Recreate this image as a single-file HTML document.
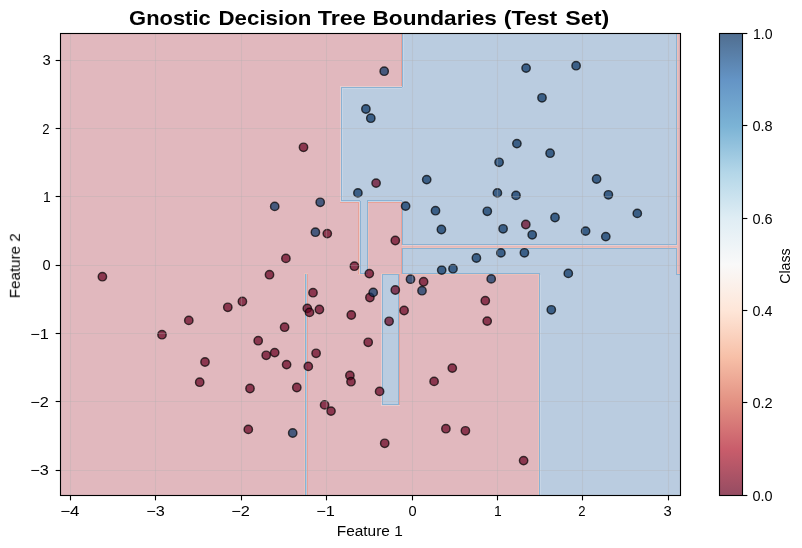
<!DOCTYPE html><html><head><meta charset="utf-8"><style>html,body{margin:0;padding:0;background:#fff;overflow:hidden;}svg{display:block;}text{font-family:"Liberation Sans",sans-serif;}</style></head><body>
<svg width="802" height="548" viewBox="0 0 802 548">
<defs>
<clipPath id="ax"><rect x="60.5" y="33.5" width="620.0" height="462.0"/></clipPath>
<linearGradient id="cb" x1="0" y1="1" x2="0" y2="0">
<stop offset="0.0" stop-color="rgb(149, 76, 98)"/>
<stop offset="0.1" stop-color="rgb(201, 93, 107)"/>
<stop offset="0.2" stop-color="rgb(226, 144, 130)"/>
<stop offset="0.3" stop-color="rgb(247, 192, 168)"/>
<stop offset="0.4" stop-color="rgb(254, 230, 216)"/>
<stop offset="0.5" stop-color="rgb(249, 249, 249)"/>
<stop offset="0.6" stop-color="rgb(223, 237, 244)"/>
<stop offset="0.7" stop-color="rgb(179, 214, 232)"/>
<stop offset="0.8" stop-color="rgb(123, 179, 213)"/>
<stop offset="0.9" stop-color="rgb(100, 148, 197)"/>
<stop offset="1.0" stop-color="rgb(80, 110, 144)"/>
</linearGradient>
</defs>
<g clip-path="url(#ax)" shape-rendering="crispEdges">
<rect x="60.5" y="33.5" width="620.0" height="462.0" fill="rgb(225,184,190)"/>
<rect x="402" y="33" width="275" height="212" fill="rgb(186,204,224)"/>
<rect x="341" y="87" width="61" height="115" fill="rgb(186,204,224)"/>
<rect x="359" y="201" width="9" height="73" fill="rgb(186,204,224)"/>
<rect x="402" y="248" width="275" height="26" fill="rgb(186,204,224)"/>
<rect x="539" y="274" width="142" height="222" fill="rgb(186,204,224)"/>
<rect x="677" y="274" width="4" height="1" fill="rgb(186,204,224)"/>
<rect x="677" y="33" width="4" height="241" fill="rgb(225,184,190)"/>
<rect x="402" y="245" width="275" height="3" fill="rgb(225,184,190)"/>
<rect x="401" y="33" width="1" height="54" fill="rgb(232,162,152)"/>
<rect x="402" y="33" width="1" height="54" fill="rgb(138,178,211)"/>
<rect x="403" y="33" width="1" height="54" fill="rgb(198,213,230)"/>
<rect x="340" y="86" width="62" height="1" fill="rgb(231,205,206)"/>
<rect x="341" y="87" width="61" height="1" fill="rgb(138,178,211)"/>
<rect x="342" y="88" width="60" height="1" fill="rgb(198,213,230)"/>
<rect x="340" y="86" width="1" height="116" fill="rgb(231,205,206)"/>
<rect x="341" y="87" width="1" height="114" fill="rgb(138,178,211)"/>
<rect x="342" y="88" width="1" height="112" fill="rgb(198,213,230)"/>
<rect x="341" y="200" width="19" height="1" fill="rgb(138,178,211)"/>
<rect x="341" y="201" width="18" height="1" fill="rgb(198,213,230)"/>
<rect x="340" y="202" width="19" height="1" fill="rgb(232,162,152)"/>
<rect x="358" y="202" width="1" height="73" fill="rgb(232,162,152)"/>
<rect x="359" y="202" width="1" height="72" fill="rgb(231,205,206)"/>
<rect x="360" y="201" width="1" height="72" fill="rgb(138,178,211)"/>
<rect x="360" y="273" width="8" height="1" fill="rgb(138,178,211)"/>
<rect x="358" y="274" width="11" height="1" fill="rgb(236,192,184)"/>
<rect x="367" y="201" width="1" height="73" fill="rgb(138,178,211)"/>
<rect x="368" y="202" width="1" height="73" fill="rgb(236,192,184)"/>
<rect x="367" y="200" width="35" height="1" fill="rgb(138,178,211)"/>
<rect x="368" y="201" width="33" height="1" fill="rgb(198,213,230)"/>
<rect x="368" y="202" width="34" height="1" fill="rgb(232,162,152)"/>
<rect x="401" y="202" width="1" height="43" fill="rgb(232,162,152)"/>
<rect x="402" y="201" width="1" height="44" fill="rgb(138,178,211)"/>
<rect x="401" y="248" width="1" height="26" fill="rgb(232,162,152)"/>
<rect x="402" y="248" width="1" height="26" fill="rgb(138,178,211)"/>
<rect x="402" y="273" width="138" height="1" fill="rgb(138,178,211)"/>
<rect x="402" y="274" width="137" height="1" fill="rgb(236,192,184)"/>
<rect x="538" y="274" width="1" height="222" fill="rgb(236,192,184)"/>
<rect x="539" y="274" width="1" height="222" fill="rgb(138,178,211)"/>
<rect x="540" y="275" width="1" height="221" fill="rgb(198,213,230)"/>
<rect x="676" y="33" width="1" height="212" fill="rgb(138,178,211)"/>
<rect x="676" y="248" width="1" height="26" fill="rgb(138,178,211)"/>
<rect x="677" y="33" width="1" height="240" fill="rgb(236,192,184)"/>
<rect x="677" y="273" width="4" height="1" fill="rgb(236,192,184)"/>
<rect x="676" y="274" width="5" height="1" fill="rgb(138,178,211)"/>
<rect x="402" y="244" width="275" height="1" fill="rgb(138,178,211)"/>
<rect x="402" y="245" width="275" height="1" fill="rgb(231,205,206)"/>
<rect x="402" y="247" width="275" height="1" fill="rgb(236,192,184)"/>
<rect x="402" y="248" width="275" height="1" fill="rgb(138,178,211)"/>
<rect x="382" y="274" width="17" height="131" fill="rgb(186,204,224)"/>
<rect x="381" y="273" width="19" height="1" fill="rgb(236,192,184)"/>
<rect x="382" y="274" width="17" height="1" fill="rgb(138,178,211)"/>
<rect x="381" y="274" width="1" height="132" fill="rgb(231,205,206)"/>
<rect x="382" y="274" width="1" height="131" fill="rgb(138,178,211)"/>
<rect x="398" y="274" width="1" height="131" fill="rgb(138,178,211)"/>
<rect x="399" y="274" width="1" height="132" fill="rgb(232,162,152)"/>
<rect x="382" y="404" width="17" height="1" fill="rgb(138,178,211)"/>
<rect x="381" y="405" width="19" height="1" fill="rgb(231,205,206)"/>
<rect x="304" y="274" width="1" height="222" fill="rgb(236,192,184)"/>
<rect x="305" y="274" width="1" height="222" fill="rgb(138,178,211)"/>
<rect x="306" y="274" width="1" height="222" fill="rgb(182,202,222)"/>
<rect x="307" y="274" width="1" height="222" fill="rgb(232,162,152)"/>
<rect x="304" y="273" width="4" height="1" fill="rgb(236,192,184)"/>
</g>
<g clip-path="url(#ax)">
<g stroke="#000" stroke-opacity="0.7" stroke-width="1.45">
<circle cx="525.8" cy="224.50" r="4.17" fill="#67001f" fill-opacity="0.7"/>
<circle cx="269.5" cy="274.70" r="4.17" fill="#67001f" fill-opacity="0.7"/>
<circle cx="303.5" cy="147.30" r="4.17" fill="#67001f" fill-opacity="0.7"/>
<circle cx="376.1" cy="183.10" r="4.17" fill="#67001f" fill-opacity="0.7"/>
<circle cx="327.3" cy="233.60" r="4.17" fill="#67001f" fill-opacity="0.7"/>
<circle cx="395.3" cy="240.50" r="4.17" fill="#67001f" fill-opacity="0.7"/>
<circle cx="285.9" cy="258.40" r="4.17" fill="#67001f" fill-opacity="0.7"/>
<circle cx="354.4" cy="266.20" r="4.17" fill="#67001f" fill-opacity="0.7"/>
<circle cx="369.3" cy="273.60" r="4.17" fill="#67001f" fill-opacity="0.7"/>
<circle cx="102.4" cy="276.70" r="4.17" fill="#67001f" fill-opacity="0.7"/>
<circle cx="423.6" cy="281.70" r="4.17" fill="#67001f" fill-opacity="0.7"/>
<circle cx="395.3" cy="290.00" r="4.17" fill="#67001f" fill-opacity="0.7"/>
<circle cx="313.0" cy="292.70" r="4.17" fill="#67001f" fill-opacity="0.7"/>
<circle cx="369.9" cy="297.50" r="4.17" fill="#67001f" fill-opacity="0.7"/>
<circle cx="242.4" cy="301.50" r="4.17" fill="#67001f" fill-opacity="0.7"/>
<circle cx="485.3" cy="300.70" r="4.17" fill="#67001f" fill-opacity="0.7"/>
<circle cx="227.8" cy="307.30" r="4.17" fill="#67001f" fill-opacity="0.7"/>
<circle cx="307.3" cy="308.40" r="4.17" fill="#67001f" fill-opacity="0.7"/>
<circle cx="309.5" cy="312.40" r="4.17" fill="#67001f" fill-opacity="0.7"/>
<circle cx="319.4" cy="309.50" r="4.17" fill="#67001f" fill-opacity="0.7"/>
<circle cx="404.1" cy="310.50" r="4.17" fill="#67001f" fill-opacity="0.7"/>
<circle cx="351.3" cy="315.00" r="4.17" fill="#67001f" fill-opacity="0.7"/>
<circle cx="188.8" cy="320.40" r="4.17" fill="#67001f" fill-opacity="0.7"/>
<circle cx="389.1" cy="321.30" r="4.17" fill="#67001f" fill-opacity="0.7"/>
<circle cx="487.2" cy="321.10" r="4.17" fill="#67001f" fill-opacity="0.7"/>
<circle cx="284.6" cy="327.20" r="4.17" fill="#67001f" fill-opacity="0.7"/>
<circle cx="162.0" cy="334.70" r="4.17" fill="#67001f" fill-opacity="0.7"/>
<circle cx="258.2" cy="340.70" r="4.17" fill="#67001f" fill-opacity="0.7"/>
<circle cx="368.2" cy="342.30" r="4.17" fill="#67001f" fill-opacity="0.7"/>
<circle cx="274.7" cy="352.60" r="4.17" fill="#67001f" fill-opacity="0.7"/>
<circle cx="266.2" cy="355.30" r="4.17" fill="#67001f" fill-opacity="0.7"/>
<circle cx="316.1" cy="353.30" r="4.17" fill="#67001f" fill-opacity="0.7"/>
<circle cx="205.0" cy="362.00" r="4.17" fill="#67001f" fill-opacity="0.7"/>
<circle cx="286.6" cy="364.60" r="4.17" fill="#67001f" fill-opacity="0.7"/>
<circle cx="308.3" cy="366.40" r="4.17" fill="#67001f" fill-opacity="0.7"/>
<circle cx="452.3" cy="368.10" r="4.17" fill="#67001f" fill-opacity="0.7"/>
<circle cx="349.9" cy="375.50" r="4.17" fill="#67001f" fill-opacity="0.7"/>
<circle cx="351.0" cy="381.70" r="4.17" fill="#67001f" fill-opacity="0.7"/>
<circle cx="434.1" cy="381.40" r="4.17" fill="#67001f" fill-opacity="0.7"/>
<circle cx="199.7" cy="382.20" r="4.17" fill="#67001f" fill-opacity="0.7"/>
<circle cx="250.0" cy="388.50" r="4.17" fill="#67001f" fill-opacity="0.7"/>
<circle cx="296.8" cy="387.50" r="4.17" fill="#67001f" fill-opacity="0.7"/>
<circle cx="379.6" cy="391.40" r="4.17" fill="#67001f" fill-opacity="0.7"/>
<circle cx="324.6" cy="404.90" r="4.17" fill="#67001f" fill-opacity="0.7"/>
<circle cx="331.0" cy="411.10" r="4.17" fill="#67001f" fill-opacity="0.7"/>
<circle cx="248.3" cy="429.40" r="4.17" fill="#67001f" fill-opacity="0.7"/>
<circle cx="384.7" cy="443.30" r="4.17" fill="#67001f" fill-opacity="0.7"/>
<circle cx="445.9" cy="428.70" r="4.17" fill="#67001f" fill-opacity="0.7"/>
<circle cx="465.4" cy="430.80" r="4.17" fill="#67001f" fill-opacity="0.7"/>
<circle cx="523.6" cy="460.60" r="4.17" fill="#67001f" fill-opacity="0.7"/>
<circle cx="384.2" cy="71.20" r="4.17" fill="#053061" fill-opacity="0.7"/>
<circle cx="526.1" cy="68.10" r="4.17" fill="#053061" fill-opacity="0.7"/>
<circle cx="576.1" cy="65.70" r="4.17" fill="#053061" fill-opacity="0.7"/>
<circle cx="542.0" cy="97.80" r="4.17" fill="#053061" fill-opacity="0.7"/>
<circle cx="365.9" cy="109.00" r="4.17" fill="#053061" fill-opacity="0.7"/>
<circle cx="370.8" cy="118.20" r="4.17" fill="#053061" fill-opacity="0.7"/>
<circle cx="516.9" cy="143.60" r="4.17" fill="#053061" fill-opacity="0.7"/>
<circle cx="550.1" cy="153.20" r="4.17" fill="#053061" fill-opacity="0.7"/>
<circle cx="499.1" cy="162.30" r="4.17" fill="#053061" fill-opacity="0.7"/>
<circle cx="426.7" cy="179.60" r="4.17" fill="#053061" fill-opacity="0.7"/>
<circle cx="596.6" cy="179.00" r="4.17" fill="#053061" fill-opacity="0.7"/>
<circle cx="357.9" cy="192.90" r="4.17" fill="#053061" fill-opacity="0.7"/>
<circle cx="497.4" cy="192.90" r="4.17" fill="#053061" fill-opacity="0.7"/>
<circle cx="516.0" cy="195.40" r="4.17" fill="#053061" fill-opacity="0.7"/>
<circle cx="608.4" cy="194.80" r="4.17" fill="#053061" fill-opacity="0.7"/>
<circle cx="274.7" cy="206.40" r="4.17" fill="#053061" fill-opacity="0.7"/>
<circle cx="320.2" cy="202.30" r="4.17" fill="#053061" fill-opacity="0.7"/>
<circle cx="405.6" cy="206.10" r="4.17" fill="#053061" fill-opacity="0.7"/>
<circle cx="435.5" cy="210.70" r="4.17" fill="#053061" fill-opacity="0.7"/>
<circle cx="487.3" cy="211.30" r="4.17" fill="#053061" fill-opacity="0.7"/>
<circle cx="637.3" cy="213.40" r="4.17" fill="#053061" fill-opacity="0.7"/>
<circle cx="555.0" cy="217.50" r="4.17" fill="#053061" fill-opacity="0.7"/>
<circle cx="315.4" cy="232.20" r="4.17" fill="#053061" fill-opacity="0.7"/>
<circle cx="441.4" cy="229.50" r="4.17" fill="#053061" fill-opacity="0.7"/>
<circle cx="503.1" cy="228.80" r="4.17" fill="#053061" fill-opacity="0.7"/>
<circle cx="532.2" cy="234.80" r="4.17" fill="#053061" fill-opacity="0.7"/>
<circle cx="585.6" cy="231.10" r="4.17" fill="#053061" fill-opacity="0.7"/>
<circle cx="605.8" cy="236.60" r="4.17" fill="#053061" fill-opacity="0.7"/>
<circle cx="500.9" cy="252.90" r="4.17" fill="#053061" fill-opacity="0.7"/>
<circle cx="524.4" cy="252.80" r="4.17" fill="#053061" fill-opacity="0.7"/>
<circle cx="476.4" cy="258.00" r="4.17" fill="#053061" fill-opacity="0.7"/>
<circle cx="568.3" cy="273.40" r="4.17" fill="#053061" fill-opacity="0.7"/>
<circle cx="441.7" cy="270.10" r="4.17" fill="#053061" fill-opacity="0.7"/>
<circle cx="453.0" cy="268.70" r="4.17" fill="#053061" fill-opacity="0.7"/>
<circle cx="410.5" cy="279.20" r="4.17" fill="#053061" fill-opacity="0.7"/>
<circle cx="491.2" cy="278.90" r="4.17" fill="#053061" fill-opacity="0.7"/>
<circle cx="422.0" cy="290.70" r="4.17" fill="#053061" fill-opacity="0.7"/>
<circle cx="373.2" cy="292.40" r="4.17" fill="#053061" fill-opacity="0.7"/>
<circle cx="551.3" cy="309.80" r="4.17" fill="#053061" fill-opacity="0.7"/>
<circle cx="292.7" cy="433.00" r="4.17" fill="#053061" fill-opacity="0.7"/>
</g>
<g stroke="#b0b0b0" stroke-opacity="0.3" stroke-width="1.11"><line x1="70.5" y1="33.5" x2="70.5" y2="495.5"/><line x1="155.5" y1="33.5" x2="155.5" y2="495.5"/><line x1="241.5" y1="33.5" x2="241.5" y2="495.5"/><line x1="326.5" y1="33.5" x2="326.5" y2="495.5"/><line x1="412.5" y1="33.5" x2="412.5" y2="495.5"/><line x1="497.5" y1="33.5" x2="497.5" y2="495.5"/><line x1="582.5" y1="33.5" x2="582.5" y2="495.5"/><line x1="668.5" y1="33.5" x2="668.5" y2="495.5"/><line x1="60.5" y1="60.5" x2="680.5" y2="60.5"/><line x1="60.5" y1="128.5" x2="680.5" y2="128.5"/><line x1="60.5" y1="196.5" x2="680.5" y2="196.5"/><line x1="60.5" y1="265.5" x2="680.5" y2="265.5"/><line x1="60.5" y1="333.5" x2="680.5" y2="333.5"/><line x1="60.5" y1="401.5" x2="680.5" y2="401.5"/><line x1="60.5" y1="470.5" x2="680.5" y2="470.5"/></g>
</g>
<rect x="60.5" y="33.5" width="620.0" height="462.0" fill="none" stroke="#000" stroke-width="1.11"/>
<g stroke="#000" stroke-width="1.11"><line x1="70.5" y1="495.5" x2="70.5" y2="500.36"/><line x1="155.5" y1="495.5" x2="155.5" y2="500.36"/><line x1="241.5" y1="495.5" x2="241.5" y2="500.36"/><line x1="326.5" y1="495.5" x2="326.5" y2="500.36"/><line x1="412.5" y1="495.5" x2="412.5" y2="500.36"/><line x1="497.5" y1="495.5" x2="497.5" y2="500.36"/><line x1="582.5" y1="495.5" x2="582.5" y2="500.36"/><line x1="668.5" y1="495.5" x2="668.5" y2="500.36"/><line x1="55.64" y1="60.5" x2="60.5" y2="60.5"/><line x1="55.64" y1="128.5" x2="60.5" y2="128.5"/><line x1="55.64" y1="196.5" x2="60.5" y2="196.5"/><line x1="55.64" y1="265.5" x2="60.5" y2="265.5"/><line x1="55.64" y1="333.5" x2="60.5" y2="333.5"/><line x1="55.64" y1="401.5" x2="60.5" y2="401.5"/><line x1="55.64" y1="470.5" x2="60.5" y2="470.5"/></g>
<g fill="#000" opacity="0.999">
<text x="60.15" y="515.90" font-size="14.0" textLength="19.28" lengthAdjust="spacingAndGlyphs">−4</text>
<text x="146.19" y="515.90" font-size="14.0" textLength="18.52" lengthAdjust="spacingAndGlyphs">−3</text>
<text x="231.18" y="515.90" font-size="14.0" textLength="18.59" lengthAdjust="spacingAndGlyphs">−2</text>
<text x="316.18" y="515.90" font-size="14.0" textLength="18.59" lengthAdjust="spacingAndGlyphs">−1</text>
<text x="408.43" y="515.90" font-size="14.0" textLength="8.13" lengthAdjust="spacingAndGlyphs">0</text>
<text x="493.96" y="515.90" font-size="14.0" textLength="7.72" lengthAdjust="spacingAndGlyphs">1</text>
<text x="578.34" y="515.90" font-size="14.0" textLength="7.30" lengthAdjust="spacingAndGlyphs">2</text>
<text x="663.42" y="515.90" font-size="14.0" textLength="8.26" lengthAdjust="spacingAndGlyphs">3</text>
<text x="30.19" y="474.90" font-size="14.0" textLength="18.52" lengthAdjust="spacingAndGlyphs">−3</text>
<text x="30.18" y="406.90" font-size="14.0" textLength="18.59" lengthAdjust="spacingAndGlyphs">−2</text>
<text x="30.18" y="338.90" font-size="14.0" textLength="18.59" lengthAdjust="spacingAndGlyphs">−1</text>
<text x="42.43" y="269.90" font-size="14.0" textLength="8.13" lengthAdjust="spacingAndGlyphs">0</text>
<text x="42.96" y="201.90" font-size="14.0" textLength="7.72" lengthAdjust="spacingAndGlyphs">1</text>
<text x="42.34" y="133.90" font-size="14.0" textLength="7.30" lengthAdjust="spacingAndGlyphs">2</text>
<text x="42.42" y="64.90" font-size="14.0" textLength="8.26" lengthAdjust="spacingAndGlyphs">3</text>
<text x="752.43" y="500.90" font-size="14.0" textLength="20.10" lengthAdjust="spacingAndGlyphs">0.0</text>
<text x="752.43" y="407.90" font-size="14.0" textLength="20.26" lengthAdjust="spacingAndGlyphs">0.2</text>
<text x="752.44" y="315.90" font-size="14.0" textLength="19.93" lengthAdjust="spacingAndGlyphs">0.4</text>
<text x="752.43" y="223.90" font-size="14.0" textLength="20.21" lengthAdjust="spacingAndGlyphs">0.6</text>
<text x="752.43" y="130.90" font-size="14.0" textLength="20.15" lengthAdjust="spacingAndGlyphs">0.8</text>
<text x="752.94" y="38.90" font-size="14.0" textLength="19.57" lengthAdjust="spacingAndGlyphs">1.0</text>
<text x="336.73" y="535.90" font-size="14.0" textLength="66.01" lengthAdjust="spacingAndGlyphs">Feature 1</text>
<text transform="translate(19.85,298.25) rotate(-90)" font-size="14.0" textLength="64.98" lengthAdjust="spacingAndGlyphs">Feature 2</text>
<text transform="translate(789.85,283.70) rotate(-90)" font-size="14.0" textLength="35.21" lengthAdjust="spacingAndGlyphs">Class</text>
<text x="129.11" y="24.80" font-size="19.8" font-weight="bold" textLength="81.56" lengthAdjust="spacingAndGlyphs">Gnostic</text>
<text x="218.54" y="24.80" font-size="19.8" font-weight="bold" textLength="92.84" lengthAdjust="spacingAndGlyphs">Decision</text>
<text x="317.76" y="24.80" font-size="19.8" font-weight="bold" textLength="48.04" lengthAdjust="spacingAndGlyphs">Tree</text>
<text x="372.51" y="24.80" font-size="19.8" font-weight="bold" textLength="124.42" lengthAdjust="spacingAndGlyphs">Boundaries</text>
<text x="503.83" y="24.80" font-size="19.8" font-weight="bold" textLength="53.44" lengthAdjust="spacingAndGlyphs">(Test</text>
<text x="565.30" y="24.80" font-size="19.8" font-weight="bold" textLength="43.88" lengthAdjust="spacingAndGlyphs">Set)</text>
</g>
<rect x="719.5" y="33.5" width="23.0" height="462.0" fill="url(#cb)"/>
<rect x="719.5" y="33.5" width="23.0" height="462.0" fill="none" stroke="#000" stroke-width="1.11"/>
<g stroke="#000" stroke-width="1.11"><line x1="742.5" y1="495.5" x2="747.36" y2="495.5"/><line x1="742.5" y1="402.5" x2="747.36" y2="402.5"/><line x1="742.5" y1="310.5" x2="747.36" y2="310.5"/><line x1="742.5" y1="218.5" x2="747.36" y2="218.5"/><line x1="742.5" y1="125.5" x2="747.36" y2="125.5"/><line x1="742.5" y1="33.5" x2="747.36" y2="33.5"/></g>
</svg></body></html>
